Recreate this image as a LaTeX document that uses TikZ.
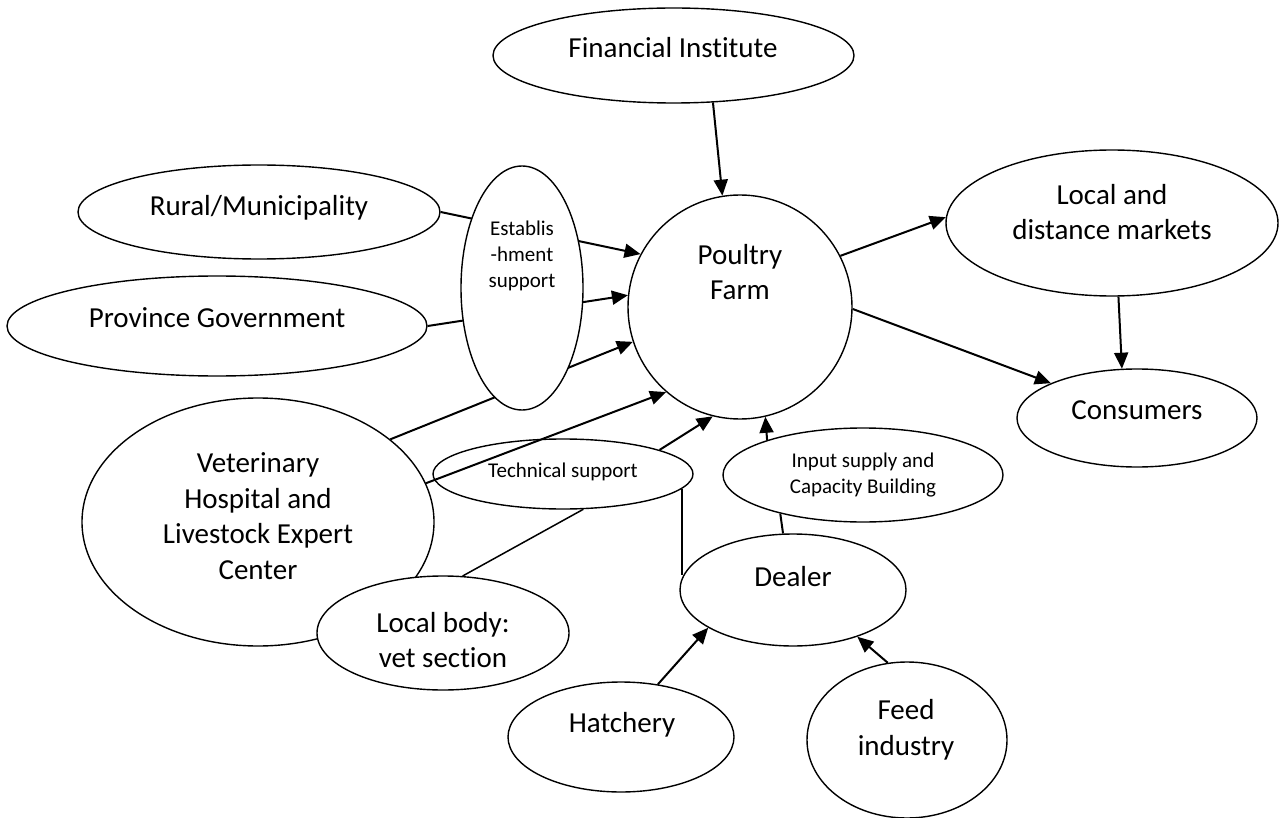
\documentclass[tikz,border=0pt]{standalone}
\usepackage{fontspec}
\setmainfont{Carlito}[Ligatures=NoCommon]
\usetikzlibrary{shapes.geometric,arrows.meta,backgrounds}
\begin{document}
\begin{tikzpicture}[x=1pt,y=-1pt,
  ell/.style={ellipse, draw, line width=1.4pt, fill=white, inner sep=0pt},
  ellopen/.style={ellipse, draw, line width=1.4pt, inner sep=0pt},
  big/.style={font=\fontsize{29}{35.5}\selectfont, align=center, inner sep=0pt},
  small/.style={font=\fontsize{21}{26}\selectfont, align=center, inner sep=0pt},
  conn/.style={line width=2pt},
  arr/.style={conn, -{Triangle[length=16pt,width=14pt]}}]
\useasboundingbox (0,0) rectangle (1282,818);

% shapes
\node[ell, minimum width=361pt, minimum height=95pt] (fin) at (673.5,55.5) {};
\node[ell, minimum width=362pt, minimum height=94pt] (rural) at (259,212) {};
\node[ell, minimum width=420pt, minimum height=100pt] (prov) at (217,326) {};
\node[ell, minimum width=122pt, minimum height=244pt] (est) at (522,288) {};
\node[ell, circle, minimum size=224pt] (farm) at (740,307) {};
\node[ell, minimum width=332pt, minimum height=146pt] (mkt) at (1112,223) {};
\node[ell, minimum width=240pt, minimum height=98pt] (cons) at (1137,418) {};
\node[ell, minimum width=352pt, minimum height=248pt] (vet) at (258,522) {};
\node[ellopen, minimum width=260pt, minimum height=70pt] (tech) at (563,474) {};
\node[ell, minimum width=280pt, minimum height=94pt] (input) at (863,475) {};
\node[ell, minimum width=226pt, minimum height=112pt] (dealer) at (793,590) {};
\node[ell, minimum width=252pt, minimum height=114pt] (local) at (443,633) {};
\node[ell, minimum width=226pt, minimum height=110pt] (hatch) at (621,737) {};
\node[ell, minimum width=200pt, minimum height=156pt] (feed) at (907,740) {};

% texts
\node[big] (fin-t) at (673,48) {Financial Institute};
\node[big] (rural-t) at (259,208) {Rural/Municipality};
\node[big] (prov-t) at (217,318) {Province Government};
\node[small] (est-t) at (522,256) {Establis\\-hment\\support};
\node[big] (farm-t) at (740,272) {Poultry\\Farm};
\node[big] (mkt-t) at (1112,212) {Local and\\distance markets};
\node[big] (cons-t) at (1137,410) {Consumers};
\node[big] (vet-t) at (258,516) {Veterinary\\Hospital and\\Livestock Expert\\Center};
\node[small] (tech-t) at (563,472) {Technical support};
\node[small] (input-t) at (863,475) {Input supply and\\Capacity Building};
\node[big] (dealer-t) at (793,577) {Dealer};
\node[big] (local-t) at (443,640) {Local body:\\vet section};
\node[big] (hatch-t) at (622,725) {Hatchery};
\node[big] (feed-t) at (906,730) {Feed\\industry};

% connectors
\begin{scope}[on background layer]
\fill[white] (0,0) rectangle (1282,818);
\draw[arr] (fin.310) -- (farm.99);
\draw[arr] (rural.east) -- (farm.152);
\draw[arr] (prov.east) -- (farm.174);
\draw[arr] (vet.32) -- (farm.198);
\draw[arr] (vet.13) -- (farm.229);
\draw[arr] (tech.14) -- (farm.256);
\draw[arr] (input.160) -- (farm.283);
\draw[conn] (dealer.100) -- (input.205);
\draw[conn, line width=1.5pt] (tech.300) -- (local.71);
\draw[conn, line width=1.5pt] (tech.353) -- (tech.353 |- dealer.172);
\draw[arr] (hatch.55) -- (dealer.204);
\draw[arr] (feed.104) -- (dealer.324);
\draw[arr] (farm.27) -- (mkt.178);
\draw[arr] (farm.359) -- (cons.158);
\draw[arr] (mkt.275) -- (cons.107);
\end{scope}
\end{tikzpicture}
\end{document}
